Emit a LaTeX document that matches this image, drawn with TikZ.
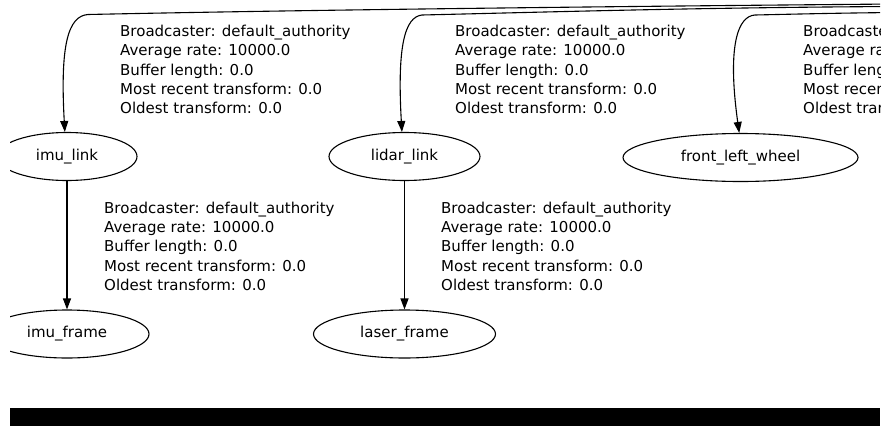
\documentclass[tikz,border=0pt]{standalone}
\usepackage{fontspec}
\setmainfont{DejaVu Sans}
\usetikzlibrary{arrows.meta,shapes.geometric}
\begin{document}
\begin{tikzpicture}[x=1pt,y=-1pt,
  txt/.style={font=\fontsize{15}{19.3}\selectfont},
  frame/.style={draw, ellipse, line width=1.1pt, inner sep=0pt,
    minimum height=48pt, txt},
  info/.style={anchor=north west, inner sep=0pt, align=left, txt},
  edge/.style={draw, line width=1.1pt,
    -{Triangle[length=11pt,width=8pt]}}]
\useasboundingbox (0,0) rectangle (883,426);
\begin{scope}
\clip (10,0) rectangle (880,426);
% frames
\node[frame, minimum width=140pt] (imu_link) at (67,156.5) {imu\_link};
\node[frame, minimum width=151pt] (lidar_link) at (404.5,156.5) {lidar\_link};
\node[frame, minimum width=235pt] (front_left_wheel) at (740.5,157.5) {front\_left\_wheel};
\node[frame, minimum width=164pt] (imu_frame) at (67,334) {imu\_frame};
\node[frame, minimum width=182pt] (laser_frame) at (404.5,334) {laser\_frame};
% transform labels
\node[info] (t1) at (120,25) {Broadcaster: default\_authority\\Average rate: 10000.0\\Buffer length: 0.0\\Most recent transform: 0.0\\Oldest transform: 0.0};
\node[info] (t2) at (455,25) {Broadcaster: default\_authority\\Average rate: 10000.0\\Buffer length: 0.0\\Most recent transform: 0.0\\Oldest transform: 0.0};
\node[info] (t3) at (803,25) {Broadcaster: default\_authority\\Average rate: 10000.0\\Buffer length: 0.0\\Most recent transform: 0.0\\Oldest transform: 0.0};
\node[info] (t4) at (104,201.5) {Broadcaster: default\_authority\\Average rate: 10000.0\\Buffer length: 0.0\\Most recent transform: 0.0\\Oldest transform: 0.0};
\node[info] (t5) at (441,201.5) {Broadcaster: default\_authority\\Average rate: 10000.0\\Buffer length: 0.0\\Most recent transform: 0.0\\Oldest transform: 0.0};
% parent frame lies off to the upper right
\coordinate (rootA) at (895,4);
\coordinate (rootB) at (895,6.5);
\coordinate (rootC) at (895,12.5);
% edges
\draw[edge] (rootA) .. controls (600,6.5) and (300,10) .. (88,14.5)
  .. controls (68,16) and (60,45) .. (imu_link.95);
\draw[edge] (rootB) .. controls (700,7.5) and (550,12) .. (422,15)
  .. controls (405,17) and (397,45) .. (lidar_link.96);
\draw[edge] (rootC) .. controls (840,13) and (800,14) .. (755,15)
  .. controls (738,16) and (727,45) .. (front_left_wheel.93);
\draw[edge] (imu_link) -- (imu_frame);
\draw[edge] (lidar_link) -- (laser_frame);
% dark strip along the bottom
\fill[black] (10,408) rectangle (880,426);
\end{scope}
\end{tikzpicture}
\end{document}
